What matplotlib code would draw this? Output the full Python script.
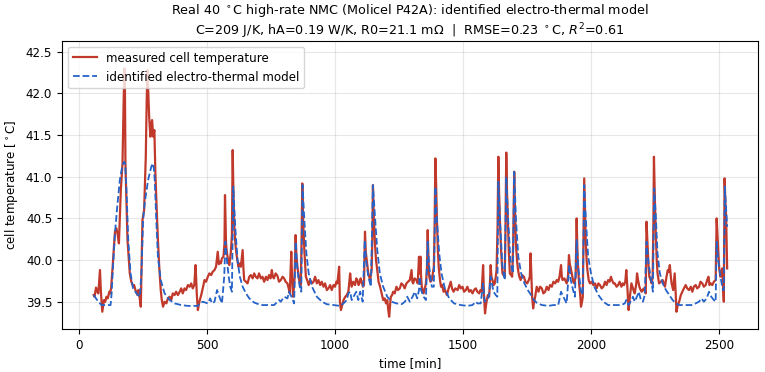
import matplotlib
matplotlib.use("Agg")
import matplotlib.pyplot as plt

# measured cell temperature (time [min], temperature [C])
meas_t = [57, 60, 66, 71, 75, 81.5, 85.5, 90.6, 97, 102, 107, 112, 118, 121, 125,
          131, 140, 146, 151, 155.5, 163, 169.5, 174, 177, 179, 181, 185, 189, 198,
          204, 211, 215, 219, 223, 228, 232, 236, 241, 247.5, 254, 260.5, 264, 267,
          270, 274, 278.5, 282, 285, 290, 294, 298, 303, 308, 313, 319, 323, 328,
          334, 341, 347, 354, 360, 366, 373, 379, 386, 393, 399, 405, 412, 418, 425,
          432, 438, 444, 450, 455, 460, 464, 470, 477, 483, 490, 496, 503, 509, 516,
          522, 529, 535, 541.6, 546, 550, 554, 558, 564, 568, 570, 572, 574, 577,
          580, 584, 587, 593, 597, 600, 603, 606.5, 610, 613, 618, 623, 628, 632,
          639, 642, 645, 652, 658, 665, 671, 678, 684, 690, 697, 703, 710, 716.5,
          723, 730, 736, 742, 748, 753, 757, 761, 768, 775, 781, 788, 795, 801, 807,
          814, 819, 823, 829, 832, 836, 840, 842, 846, 849, 853, 858, 862, 866, 869,
          872, 875, 880, 886, 891, 897, 903, 910, 916, 922, 929, 935, 942, 948, 955,
          961, 968, 974, 981, 987, 994, 1000, 1005, 1009, 1016, 1019, 1023, 1028,
          1033, 1040, 1046, 1052, 1059, 1062, 1065, 1071, 1078, 1083, 1087, 1092,
          1095, 1100, 1104, 1109, 1113, 1117, 1120, 1124, 1130, 1137, 1143, 1146,
          1148, 1151, 1156, 1160, 1165, 1170, 1176, 1182, 1188, 1194, 1199, 1204,
          1208, 1211.5, 1215, 1218, 1223, 1227, 1233, 1240, 1246, 1253, 1259, 1266,
          1272, 1279, 1285, 1292, 1299, 1302, 1305, 1311, 1318, 1323, 1326, 1328,
          1330, 1334, 1336, 1339, 1346, 1351, 1355, 1359, 1362, 1365, 1368, 1373,
          1378, 1386, 1389, 1392, 1395, 1398, 1402, 1405, 1410, 1414, 1419, 1424,
          1430, 1437, 1442, 1446, 1452, 1457, 1463, 1470, 1479, 1485, 1491, 1498,
          1504, 1511, 1517, 1524, 1530, 1537, 1543, 1550, 1556, 1563, 1568, 1573,
          1578.5, 1582, 1586, 1590, 1593, 1597, 1602, 1605, 1608, 1611, 1615, 1620,
          1624, 1628, 1631, 1635, 1638, 1641, 1645, 1649, 1654, 1658, 1663, 1666,
          1669, 1672, 1676, 1679, 1683, 1688, 1692, 1696, 1700, 1703, 1707, 1711,
          1715, 1720, 1725, 1731, 1738, 1744, 1751, 1757, 1761, 1764, 1767, 1770,
          1774, 1778, 1782, 1788, 1795, 1801, 1808, 1814, 1821, 1827, 1834, 1840,
          1847, 1853, 1860, 1866, 1872, 1877, 1883, 1886, 1889, 1896, 1905, 1910,
          1914, 1917, 1921, 1927, 1931, 1935, 1940, 1944, 1947, 1950, 1954, 1957,
          1961, 1965, 1968, 1971, 1973.5, 1977, 1980, 1983, 1986, 1991, 1996, 2003,
          2009, 2016, 2022, 2029, 2035, 2042, 2048, 2055, 2061, 2067, 2073, 2078,
          2082, 2088, 2093, 2100, 2106, 2112, 2119, 2124, 2129, 2134, 2138, 2142,
          2147, 2152, 2158, 2164, 2168, 2171, 2177, 2180, 2184, 2189, 2194, 2198,
          2206, 2214, 2217, 2220, 2222, 2225, 2228, 2233, 2237, 2241, 2244, 2246,
          2249, 2253.5, 2257, 2260, 2266, 2273, 2280, 2285, 2289, 2295, 2300, 2304,
          2308, 2312, 2315, 2321, 2327, 2331, 2334, 2339, 2344.5, 2351, 2357, 2363,
          2370, 2376, 2383, 2390, 2396, 2402, 2409, 2415, 2422, 2428, 2435, 2441,
          2448, 2454, 2459, 2463, 2468, 2474, 2480, 2487, 2489, 2491, 2494, 2497,
          2501, 2506, 2510, 2513, 2516, 2519, 2521, 2522, 2525, 2528, 2530, 2532]
meas_T = [39.58, 39.56, 39.67, 39.62, 39.60, 39.88, 39.60, 39.38, 39.52, 39.50, 39.56,
          39.54, 39.62, 39.60, 39.66,
          39.92, 40.34, 40.38, 40.30, 40.20, 40.84, 41.16, 41.90, 42.30, 42.10, 41.16,
          40.70, 40.24, 39.84,
          39.74, 39.68, 39.70, 39.65, 39.62, 39.58, 39.64, 39.56, 39.44, 40.48, 40.60,
          41.24, 41.90, 42.28,
          42.04, 41.70, 41.48, 41.62, 41.68, 41.48, 41.56, 41.04, 40.62, 40.24, 39.92,
          39.64, 39.52, 39.44,
          39.50, 39.48, 39.54, 39.56, 39.52, 39.60, 39.58, 39.62, 39.58, 39.62, 39.66,
          39.60, 39.66, 39.64, 39.70,
          39.68, 39.72, 39.66, 39.70, 39.94, 39.58, 39.40, 39.50, 39.58, 39.66, 39.76,
          39.74, 39.80, 39.84, 39.82,
          39.86, 39.88, 39.92, 40.10, 39.95, 39.98, 39.96, 40.02, 40.04, 40.20, 40.78,
          40.50, 40.20, 40.10,
          40.04, 39.96, 39.94, 40.10, 40.30, 41.32, 40.80, 40.40, 40.22, 40.12, 40.00,
          39.92, 39.96, 39.92,
          40.12, 39.90, 39.76, 39.74, 39.72, 39.80, 39.82, 39.78, 39.84, 39.80, 39.78,
          39.84, 39.78, 39.80,
          39.74, 39.80, 39.76, 39.82, 39.78, 39.88, 39.80, 39.78, 39.84, 39.81, 39.74,
          39.76, 39.80, 39.78, 39.74,
          39.72, 39.66, 39.60, 40.10, 39.80, 39.56, 39.70, 39.80, 40.30, 40.05, 39.92,
          39.80, 39.72, 39.70, 40.20,
          40.92, 40.50, 40.12, 39.80, 39.76, 39.70, 39.76, 39.72, 39.74, 39.80, 39.72,
          39.76, 39.70, 39.74, 39.68,
          39.72, 39.64, 39.66, 39.70, 39.64, 39.70, 39.68, 39.74, 39.72, 39.92, 39.50,
          39.40, 39.46,
          39.52, 39.56, 39.58, 39.62, 39.84, 39.74, 39.68, 39.74, 39.70, 39.78, 39.76,
          39.70,
          39.72, 39.78, 39.74, 39.68, 39.70, 40.34, 40.10, 40.00, 39.84, 39.76, 39.88,
          40.30,
          40.90, 40.55, 40.20, 40.00, 39.88, 39.74, 39.68, 39.60, 39.52, 39.54, 39.48,
          39.52,
          39.40, 39.32, 39.46, 39.56, 39.58, 39.62, 39.60, 39.68, 39.64, 39.66, 39.72,
          39.70,
          39.66, 39.72, 39.74, 39.76, 39.88, 39.74, 39.72, 39.78, 39.76, 39.72, 39.90,
          40.04,
          39.84, 40.04, 39.80, 39.68, 39.60, 39.66, 39.72, 39.90, 40.36, 40.00, 39.80,
          39.74,
          39.76, 39.92, 40.40, 41.22, 40.90, 40.48, 40.10, 39.92, 39.76, 39.68, 39.70,
          39.62,
          39.64, 39.58, 39.64, 39.68, 39.74, 39.66, 39.62, 39.66, 39.64, 39.70, 39.66,
          39.68,
          39.62, 39.64, 39.68, 39.62, 39.64, 39.60, 39.64, 39.66, 39.62, 39.60, 39.64,
          39.62,
          39.94, 39.56, 39.36, 39.46, 39.52, 39.58, 39.56, 39.72, 39.94, 39.80, 39.76,
          39.70,
          39.72, 39.80, 39.88, 40.40, 41.24, 40.80, 40.40, 40.10, 39.84, 39.82, 39.80,
          40.40,
          41.29, 40.80, 40.40, 40.10, 39.84, 39.82, 39.80, 40.20, 41.06, 40.60, 40.18,
          40.00,
          39.88, 39.80, 39.76, 39.82, 39.80, 39.74, 39.72, 39.76, 39.80, 40.08, 39.80,
          39.56,
          39.42, 39.50, 39.56, 39.68, 39.62, 39.68, 39.66, 39.60, 39.62, 39.68, 39.64,
          39.70,
          39.68, 39.74, 39.72, 39.76, 39.74, 39.80, 39.94, 39.80, 39.76, 39.78, 39.72,
          39.80,
          40.06, 39.96, 39.90, 39.80, 39.74, 39.72, 39.80, 40.50, 40.10, 39.88, 39.70,
          39.62,
          39.44, 39.50, 39.56, 40.30, 40.98, 40.55, 40.18, 40.00, 39.88, 39.76, 39.72,
          39.74,
          39.70, 39.72, 39.66, 39.72, 39.70, 39.66, 39.68, 39.74, 39.70, 39.76, 39.74,
          39.80,
          39.76, 39.72, 39.72, 39.68, 39.70, 39.74, 39.68, 39.72, 39.70, 39.74, 39.88,
          39.68,
          39.40, 39.56, 39.72, 39.66, 39.62, 39.60, 39.72, 39.84, 39.76, 39.68, 39.64,
          39.62,
          39.66, 39.60, 40.46, 40.24, 40.12, 39.92, 39.80, 39.76, 39.72, 39.80, 40.50,
          41.24,
          40.80, 40.28, 40.00, 39.84, 39.72, 39.74, 39.76, 39.72, 39.68, 39.80, 39.88,
          39.86,
          39.94, 39.80, 39.72, 39.64, 39.84, 39.60, 39.38, 39.46, 39.50, 39.58, 39.62,
          39.66,
          39.70, 39.66, 39.64, 39.68, 39.62, 39.68, 39.70, 39.66, 39.68, 39.74, 39.72,
          39.68,
          39.70, 39.76, 39.80, 39.70, 39.72, 39.70, 39.74, 39.76, 40.10, 40.50, 40.30,
          40.12,
          39.90, 39.80, 39.84, 39.90, 39.70, 39.50, 40.40, 40.98, 40.70, 40.52, 40.20,
          39.90]

# identified electro-thermal model
model_t = [57, 66, 75, 88, 107, 123, 127, 131, 140, 149, 159, 169.5, 176, 180, 185,
           192, 201, 211, 224, 237, 243.5, 250, 256, 269.5, 282, 288, 292, 295.5, 302,
           308, 319, 334, 354, 373, 399, 425, 451, 464, 470, 483, 503, 512, 519, 529,
           539, 548, 558, 567, 571.5, 578, 584.5, 590.5, 597, 602.5, 610, 619, 628,
           639, 652, 665, 684, 710, 736, 762, 781, 788, 801, 814, 820, 833, 840, 846,
           853, 862, 868, 873, 880, 888, 897, 910, 929, 949, 968, 994, 1020, 1033,
           1046, 1052, 1059, 1065, 1072, 1083, 1091, 1098, 1108, 1116, 1121, 1130,
           1140, 1148, 1156, 1165, 1175, 1188, 1204, 1221, 1240, 1260, 1273, 1282,
           1292, 1303, 1312, 1321, 1328, 1330, 1336, 1346, 1355, 1362, 1368, 1378,
           1386, 1392, 1398, 1407, 1416, 1429, 1446, 1465, 1491, 1517, 1537, 1550,
           1556, 1569, 1578.5, 1585, 1595, 1602, 1608, 1619, 1628, 1634, 1638, 1645,
           1654, 1663, 1669, 1677, 1686, 1695, 1700, 1707, 1716, 1727, 1740, 1753,
           1766, 1777, 1787, 1808, 1834, 1853, 1872, 1883, 1892, 1905, 1915, 1921,
           1930, 1937, 1944, 1950, 1960, 1968, 1973.5, 1980, 1989, 2000, 2013, 2029,
           2048, 2067, 2093, 2119, 2132, 2138, 2147, 2158, 2164, 2171, 2182, 2187,
           2195, 2203, 2210, 2217, 2225, 2235, 2242, 2247, 2254, 2260, 2269, 2280,
           2293, 2306, 2319, 2332, 2344.5, 2370, 2396, 2409, 2422, 2432, 2441, 2452,
           2461, 2470, 2480, 2487, 2491, 2497, 2506, 2515, 2519, 2523, 2528, 2532]
model_T = [39.58, 39.54, 39.50, 39.46, 39.46, 39.46, 39.60, 39.84, 40.32, 40.64, 40.96,
           41.14, 41.18, 41.16, 40.84,
           40.24, 39.84, 39.66, 39.60, 39.56, 39.84, 40.48, 40.68, 40.96, 41.12, 41.16,
           41.10, 40.96, 40.44,
           40.04, 39.76, 39.60, 39.52, 39.48, 39.46, 39.45, 39.45, 39.45, 39.48, 39.50,
           39.48, 39.54, 39.48, 39.50,
           39.64, 39.56, 39.48, 39.80, 40.22, 39.98, 39.80, 39.68, 39.62, 40.88, 40.40,
           40.00, 39.80,
           39.68, 39.60, 39.54, 39.49, 39.46, 39.46, 39.46, 39.52, 39.50, 39.56, 39.54,
           39.62, 39.54, 39.48, 40.22,
           39.88, 39.68, 39.62, 40.90, 40.48, 40.08, 39.84, 39.68, 39.56, 39.50, 39.47,
           39.46, 39.45, 39.48,
           39.52, 39.60, 39.62, 39.52, 39.56, 39.62, 39.52, 39.62, 39.50, 40.24, 40.00,
           39.80,
           39.68, 40.90, 40.52, 40.12, 39.84, 39.68, 39.56, 39.50, 39.48, 39.47, 39.50,
           39.56,
           39.50, 39.56, 39.62, 39.54, 39.64, 39.80, 39.64, 39.56, 39.52, 40.22, 39.92,
           39.68,
           39.68, 40.88, 40.48, 40.08, 39.84, 39.66, 39.54, 39.48, 39.46, 39.45, 39.46,
           39.50,
           39.48, 39.48, 39.72, 39.50, 39.52, 39.58, 39.80, 39.62, 39.58, 39.56, 40.94,
           40.44,
           39.92, 39.76, 41.00, 40.44, 39.96, 39.84, 41.06, 40.48, 40.04, 39.84, 39.72,
           39.64,
           39.58, 39.52, 39.49, 39.46, 39.45, 39.46, 39.46, 39.62, 39.56, 39.48, 39.94,
           39.76,
           39.64, 39.56, 40.24, 39.92, 39.64, 39.58, 40.90, 40.48, 40.04, 39.84, 39.68,
           39.58,
           39.50, 39.46, 39.46, 39.46, 39.48, 39.52, 39.46, 39.52, 39.56, 39.50, 39.58,
           39.62,
           39.52, 39.50, 39.58, 40.22, 39.96, 39.76, 39.62, 40.86, 40.48, 40.08, 39.84,
           39.72,
           39.64, 39.58, 39.52, 39.48, 39.46, 39.46, 39.46, 39.48, 39.50, 39.54, 39.50,
           39.54,
           39.62, 39.56, 39.52, 39.50, 40.22, 40.00, 39.80, 39.64, 39.64, 40.88, 40.60,
           40.40]

title_1 = r"Real 40 $^\circ$C high-rate NMC (Molicel P42A): identified electro-thermal model"
title_2 = r"C=209 J/K, hA=0.19 W/K, R0=21.1 m$\Omega$  |  RMSE=0.23 $^\circ$C, $R^2$=0.61"

plt.rcParams['font.size'] = 8.6
fig, ax = plt.subplots(figsize=(7.65, 3.72), dpi=100)
fig.subplots_adjust(left=0.081, right=0.991, bottom=0.115, top=0.89)

ax.plot(meas_t, meas_T, color='#c0392b', linewidth=1.6, label='measured cell temperature')
ax.plot(model_t, model_T, color='#2563c9', linewidth=1.3, linestyle='--',
        label='identified electro-thermal model')

ax.set_xlim(-67, 2653)
ax.set_ylim(39.17, 42.63)
ax.set_xlabel('time [min]')
ax.set_ylabel(r'cell temperature [$^\circ$C]')
ax.set_title(title_1 + "\n" + title_2, fontsize=9.2, pad=4)
ax.grid(True, alpha=0.3)
ax.legend(loc='upper left')

fig.savefig('out.png', dpi=100)
